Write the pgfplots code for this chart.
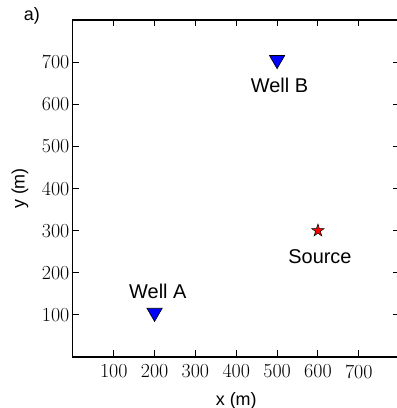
\documentclass[border=0pt]{standalone}
\usepackage{fontspec}
\setmainfont{Liberation Sans}
\usepackage{pgfplots}
\pgfplotsset{compat=1.18}
\pgfdeclareplotmark{fstar}{%
  \pgfpathmoveto{\pgfpointpolar{90}{\pgfplotmarksize}}%
  \pgfpathlineto{\pgfpointpolar{126}{0.382*\pgfplotmarksize}}%
  \pgfpathlineto{\pgfpointpolar{162}{\pgfplotmarksize}}%
  \pgfpathlineto{\pgfpointpolar{198}{0.382*\pgfplotmarksize}}%
  \pgfpathlineto{\pgfpointpolar{234}{\pgfplotmarksize}}%
  \pgfpathlineto{\pgfpointpolar{270}{0.382*\pgfplotmarksize}}%
  \pgfpathlineto{\pgfpointpolar{306}{\pgfplotmarksize}}%
  \pgfpathlineto{\pgfpointpolar{342}{0.382*\pgfplotmarksize}}%
  \pgfpathlineto{\pgfpointpolar{18}{\pgfplotmarksize}}%
  \pgfpathlineto{\pgfpointpolar{54}{0.382*\pgfplotmarksize}}%
  \pgfpathclose
  \pgfusepathqfillstroke}
\begin{document}
\begin{tikzpicture}
\begin{axis}[
  name=ax,
  scale only axis,
  width=326.7bp, height=337bp,
  xmin=0, xmax=800, ymin=0, ymax=800,
  xtick={100,200,300,400,500,600,700},
  ytick={100,200,300,400,500,600,700},
  xticklabels={100,200,300,400,500,600,700},
  yticklabels={100,200,300,400,500,600,700},
  tick align=inside,
  tick pos=both,
  major tick length=6.5bp,
  axis line style={line width=1.1bp},
  tick style={line width=0.9bp, black},
  tick label style={font=\fontsize{20}{24}\fontfamily{lmr}\selectfont},
  xticklabel style={yshift=-4bp},
  yticklabel style={xshift=0bp},
  clip=false,
]
\addplot[only marks, mark=triangle*, mark options={yshift=2.2bp, rotate=180, fill=blue, draw=black, line width=0.6bp}, mark size=8.8bp]
  coordinates {(200,100) (500,700)};
\addplot[only marks, mark=fstar, mark options={fill=red, draw=black, line width=0.5bp}, mark size=6.6bp]
  coordinates {(600,300)};
\node[font=\fontsize{20}{24}\selectfont, anchor=base] at (axis cs:506,627) {Well B};
\node[font=\fontsize{20}{24}\selectfont, anchor=base] at (axis cs:208,138) {Well A};
\node[font=\fontsize{20}{24}\selectfont, anchor=base] at (axis cs:605,223) {Source};
\end{axis}
\node[font=\fontsize{18}{21}\selectfont, anchor=base] at ([yshift=-48bp]ax.south) {x (m)};
\node[font=\fontsize{18}{21}\selectfont, rotate=90] at ([xshift=-53bp]ax.west) {y (m)};
\node[font=\fontsize{18}{21}\selectfont] at ([shift={(-41bp,4bp)}]ax.north west) {a)};
\pgfresetboundingbox
\path[use as bounding box] ([shift={(-72.9bp,-51bp)}]ax.south west) rectangle ([shift={(-2.6bp,20bp)}]ax.north east);
\end{tikzpicture}
\end{document}
